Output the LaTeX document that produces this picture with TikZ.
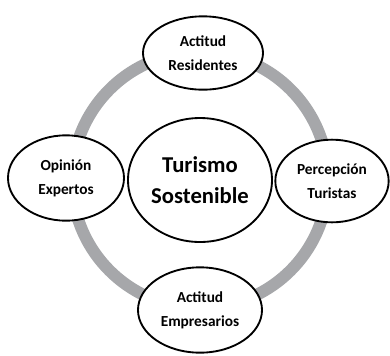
\documentclass[tikz,border=0pt]{standalone}
\usepackage{fontspec}
\setsansfont{Carlito}
\usetikzlibrary{shapes.geometric}
\definecolor{ringgray}{RGB}{166,167,170}

\begin{document}
\begin{tikzpicture}[x=0.75pt,y=-0.75pt,main node/.style={ellipse,draw,line width=1.4pt,fill=white,inner sep=0pt,align=center,font=\sffamily\bfseries\fontsize{11.5}{18}\selectfont}]
	\useasboundingbox (0,0) rectangle (390,355);
	
	\node[main node,minimum width=108pt,minimum height=93pt,font=\sffamily\bfseries\fontsize{17}{23}\selectfont] (T) at (200,180) {Turismo\\Sostenible};
	
	% grey ring behind the outer nodes
	\draw[ringgray,line width=9pt] (T.center) circle [radius=96pt];
	
	\node[main node,minimum width=90pt,minimum height=55pt] (R) at (203,53) {Actitud\\Residentes};
	\node[main node,minimum width=87pt,minimum height=64pt] (O) at (66,178) {Opinión\\Expertos};
	\node[main node,minimum width=85pt,minimum height=62pt] (P) at (332,181) {Percepción\\Turistas};
	\node[main node,minimum width=93pt,minimum height=64pt] (E) at (200,310) {Actitud\\Empresarios};
	\end{tikzpicture}
\end{document}
